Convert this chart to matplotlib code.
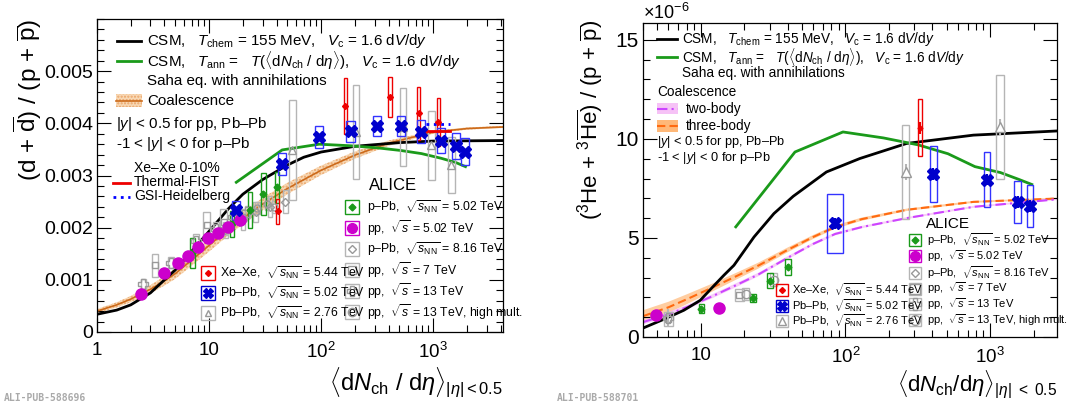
import numpy as np
import matplotlib
matplotlib.use('Agg')
import matplotlib.pyplot as plt
from matplotlib.patches import Rectangle
from matplotlib.lines import Line2D
from matplotlib.ticker import FixedLocator, FixedFormatter, MultipleLocator, FuncFormatter, LogLocator, NullFormatter

plt.rcParams['font.family'] = ['Liberation Sans', 'DejaVu Sans']
plt.rcParams['mathtext.fontset'] = 'custom'
plt.rcParams['mathtext.rm'] = 'Liberation Sans'
plt.rcParams['mathtext.it'] = 'Liberation Sans:italic'
plt.rcParams['mathtext.bf'] = 'Liberation Sans:bold'

# ---------------- left panel: (d + dbar)/(p + pbar), units of 1e-3
csm_x_L = [1, 1.5, 2, 3, 4, 5, 7, 10, 15, 20, 30, 50, 70, 100, 200, 500, 1000, 4200]
csm_y_L = [0.34, 0.42, 0.52, 0.75, 1.0, 1.19, 1.55, 1.93, 2.37, 2.64, 2.92, 3.2, 3.35, 3.45, 3.56, 3.63, 3.66, 3.67]
ann_x_L = [17.5, 44.9, 96.3, 183, 318, 512, 786, 1180, 1587, 1942]
ann_y_L = [2.87, 3.49, 3.6, 3.57, 3.53, 3.48, 3.42, 3.33, 3.25, 3.17]
coal_x_L = [1, 1.5, 2, 3, 4, 5, 7, 10, 15, 20, 30, 50, 100, 200, 400, 1000, 2000, 4200]
coal_y_L = [0.40, 0.52, 0.63, 0.82, 0.98, 1.12, 1.38, 1.66, 1.98, 2.18, 2.45, 2.75, 3.1, 3.39, 3.62, 3.83, 3.9, 3.93]
coal_e_L = [0.04, 0.05, 0.06, 0.08, 0.09, 0.1, 0.11, 0.12, 0.12, 0.12, 0.12, 0.11, 0.09, 0.07, 0.05, 0.03, 0.02, 0.02]
fist_x = [870, 1400]
fist_y = [3.85, 3.85]
gsi_x = [870, 1400]
gsi_y = [3.99, 3.99]

ppb5_x_L = [7.1, 16.1, 23.2, 30.5, 40.6]
ppb5_y_L = [1.51, 2.07, 2.34, 2.64, 2.77]
ppb5_s_L = [0.29, 0.25, 0.35, 0.40, 0.29]
pp5_x_L = [2.45, 3.96, 5.32, 6.45, 7.93, 9.87, 12.1, 14.9, 18.9]
pp5_y_L = [0.73, 1.14, 1.32, 1.46, 1.62, 1.80, 1.90, 2.02, 2.15]
pbpb5_x_L = [17.5, 44.9, 96.3, 183, 318, 512, 786, 1180, 1587, 1942]
pbpb5_y_L = [2.33, 3.22, 3.73, 3.85, 3.95, 3.95, 3.84, 3.67, 3.57, 3.46]
pbpb5_s_L = [0.18, 0.21, 0.21, 0.2, 0.2, 0.2, 0.22, 0.24, 0.25, 0.25]
xexe_x_L = [41, 164, 413, 740, 1115]
xexe_y_L = [2.31, 4.33, 4.51, 4.19, 4.02]
xexe_s_L = [0.24, 0.53, 0.38, 0.5, 0.46]
pbpb276_x_L = [55.5, 205, 537, 966, 1447]
pbpb276_y_L = [3.49, 3.84, 3.93, 3.58, 3.2]
pbpb276_s_L = [0.96, 0.9, 0.75, 0.66, 0.54]
pp7_x_L = [3.3, 9.5, 13.5]
pp7_y_L = [1.28, 2.05, 2.1]
pp7_s_L = [0.22, 0.25, 0.25]
pp13_x_L = [2.6, 4.6, 7.6, 11.5, 16.5, 22]
pp13_y_L = [0.92, 1.33, 1.75, 1.98, 2.2, 2.3]
pp13_s_L = [0.1, 0.1, 0.12, 0.12, 0.12, 0.12]
hm_x_L = [27, 33, 38]
hm_y_L = [2.38, 2.45, 2.4]
hm_s_L = [0.12, 0.12, 0.12]
ppb8_x_L = [14, 20, 26, 35, 48]
ppb8_y_L = [1.95, 2.15, 2.3, 2.4, 2.5]
ppb8_s_L = [0.15, 0.2, 0.2, 0.2, 0.22]

# ---------------- right panel: (3He + 3Hebar)/(p + pbar), units of 1e-6
csm_x_R = [4, 5.72, 7.66, 9.94, 12.0, 14.5, 17.0, 23.4, 32.1, 43.6, 74, 126, 265, 767, 2900]
csm_y_R = [0.45, 0.93, 1.35, 1.85, 2.49, 3.12, 3.62, 5.05, 6.23, 7.1, 8.33, 9.01, 9.77, 10.19, 10.4]
ann_x_R = [17.5, 44.9, 96.3, 183, 318, 512, 786, 1180, 1587, 1942]
ann_y_R = [5.56, 9.34, 10.35, 10.05, 9.7, 9.25, 8.6, 8.3, 7.95, 7.7]
coal_x_R = [4, 6, 8, 12, 18, 25, 40, 60, 85, 130, 265, 767, 2900]
three_y_R = [1.05, 1.5, 1.9, 2.49, 3.1, 3.6, 4.4, 5.05, 5.55, 5.95, 6.42, 6.82, 6.99]
three_e_R = [0.3, 0.28, 0.25, 0.2, 0.17, 0.15, 0.12, 0.1, 0.09, 0.08, 0.06, 0.05, 0.04]
two_y_R = [0.75, 1.15, 1.5, 2.05, 2.65, 3.15, 4.0, 4.7, 5.2, 5.55, 6.0, 6.57, 6.95]
two_e_R = [0.12, 0.12, 0.11, 0.1, 0.1, 0.09, 0.08, 0.07, 0.07, 0.06, 0.05, 0.05, 0.04]

ppb5_x_R = [10.1, 23, 30.2, 40.2]
ppb5_y_R = [1.43, 1.95, 2.85, 3.54]
ppb5_s_R = [0.22, 0.2, 0.37, 0.4]
pp5_x_R = [4.9, 13.5]
pp5_y_R = [1.1, 1.45]
pbpb5_x_R = [84.5, 406, 955, 1548, 1893]
pbpb5_y_R = [5.73, 8.22, 7.95, 6.82, 6.62]
pbpb5_s_R = [1.49, 1.4, 1.4, 1.05, 1.05]
xexe_x_R = [328]
xexe_y_R = [10.57]
xexe_s_R = [1.42]
pbpb276_x_R = [261, 1172]
pbpb276_y_R = [8.33, 10.6]
pbpb276_s_R = [2.38, 2.61]
pp7_x_R = [6.0, 18.5]
pp7_y_R = [0.93, 2.1]
pp13_x_R = [6.0]
pp13_y_R = [0.95]
hm_x_R = [20.5, 32]
hm_y_R = [2.15, 2.9]

# ---------------- colours
GREEN = '#1a9a1a'
MAG = '#cc00cc'
BLUE = '#0000cc'
RED = '#ee0000'
GRAY = '#999999'
GBOX = '#b5b5b5'

W, H = 1078, 407
fig = plt.figure(figsize=(W / 100, H / 100), dpi=100)


def fx(x):
    return x / W


def fy(y):
    return 1 - y / H


def boxes(ax, xs, ys, hs, dex, color, lw=1.0):
    if np.isscalar(dex):
        dex = [dex] * len(xs)
    for x, y, h, d in zip(xs, ys, hs, dex):
        x0, x1 = x * 10 ** (-d), x * 10 ** d
        ax.add_patch(Rectangle((x0, y - h), x1 - x0, 2 * h, fill=False, ec=color, lw=lw, zorder=3))


def style(ax, ysize):
    ax.tick_params(which='both', direction='in', top=True, right=True, width=0.8)
    ax.tick_params(which='major', length=10)
    ax.tick_params(which='minor', length=5)
    ax.tick_params(axis='x', pad=7, labelsize=13.5)
    ax.tick_params(axis='y', pad=3, labelsize=ysize)
    for s in ax.spines.values():
        s.set_linewidth(0.9)


def leg_entry(px, py, size, ec, marker, mfc, mec, ms, label, tx, fs):
    fig.add_artist(Rectangle((fx(px - size / 2), fy(py + size / 2)), size / W, size / H,
                             transform=fig.transFigure, fill=False, ec=ec, lw=1))
    fig.add_artist(Line2D([fx(px)], [fy(py)], transform=fig.transFigure, marker=marker,
                          mfc=mfc, mec=mec, ms=ms, ls='none', mew=1))
    fig.text(fx(tx), fy(py), label, fontsize=fs, va='center', ha='left')


def leg_line(x0, x1, py, **kw):
    fig.add_artist(Line2D([fx(x0), fx(x1)], [fy(py), fy(py)], transform=fig.transFigure, **kw))


# =============== left panel
axL = fig.add_axes([fx(97), fy(332), (503 - 97) / W, (332 - 19) / H])
axL.set_xscale('log')
axL.set_xlim(1, 4200)
axL.set_ylim(0, 6.0)

axL.fill_between(coal_x_L, np.array(coal_y_L) - coal_e_L, np.array(coal_y_L) + coal_e_L,
                 facecolor='#f8d8b4', edgecolor='#eaa468', hatch='.....', lw=0, zorder=1)
axL.plot(coal_x_L, coal_y_L, color='#cc6a1a', lw=1.2, zorder=2)
axL.plot(csm_x_L, csm_y_L, color='black', lw=2, zorder=2)
axL.plot(ann_x_L, ann_y_L, color=GREEN, lw=2, zorder=2)
axL.plot(fist_x, fist_y, color=RED, lw=2, zorder=5)
axL.plot(gsi_x, gsi_y, color='#0000ff', lw=2, ls=':', zorder=5)

boxes(axL, pbpb276_x_L, pbpb276_y_L, pbpb276_s_L, 0.03, GBOX)
boxes(axL, ppb8_x_L, ppb8_y_L, ppb8_s_L, 0.02, GBOX)
boxes(axL, pp7_x_L, pp7_y_L, pp7_s_L, 0.03, GBOX)
boxes(axL, pp13_x_L, pp13_y_L, pp13_s_L, 0.025, GBOX)
boxes(axL, hm_x_L, hm_y_L, hm_s_L, 0.02, GBOX)
axL.plot(pbpb276_x_L, pbpb276_y_L, ls='none', marker='^', mfc='none', mec=GRAY, ms=6, zorder=4)
axL.plot(ppb8_x_L, ppb8_y_L, ls='none', marker='D', mfc='none', mec=GRAY, ms=4, zorder=4)
axL.plot(pp7_x_L, pp7_y_L, ls='none', marker='s', mfc='none', mec=GRAY, ms=5, zorder=4)
axL.plot(pp13_x_L, pp13_y_L, ls='none', marker='P', mfc='none', mec=GRAY, ms=7, zorder=4)
axL.plot(hm_x_L, hm_y_L, ls='none', marker='o', mfc='none', mec=GRAY, ms=5, zorder=4)

boxes(axL, ppb5_x_L, ppb5_y_L, ppb5_s_L, 0.02, GREEN)
axL.errorbar(ppb5_x_L, ppb5_y_L, yerr=0.06, fmt='D', color=GREEN, ms=3.5, elinewidth=1.2, capsize=0, zorder=6)
axL.errorbar(pp5_x_L, pp5_y_L, yerr=0.06, fmt='o', color=MAG, ms=8, elinewidth=1.2, capsize=0, zorder=6)
boxes(axL, xexe_x_L, xexe_y_L, xexe_s_L, 0.015, RED)
axL.errorbar(xexe_x_L, xexe_y_L, yerr=0.05, fmt='D', color=RED, ms=3, elinewidth=1, capsize=0, zorder=6)
boxes(axL, pbpb5_x_L, pbpb5_y_L, pbpb5_s_L, 0.036, '#3333ff')
axL.errorbar(pbpb5_x_L, pbpb5_y_L, yerr=0.03, fmt='X', color=BLUE, ms=9, elinewidth=1, capsize=0, zorder=7)

style(axL, 14)
axL.xaxis.set_major_locator(FixedLocator([1, 10, 100, 1000]))
axL.xaxis.set_major_formatter(FixedFormatter(['1', '10', '$10^{2}$', '$10^{3}$']))
axL.xaxis.set_minor_locator(LogLocator(base=10, subs=np.arange(2, 10), numticks=20))
axL.xaxis.set_minor_formatter(NullFormatter())
axL.yaxis.set_major_locator(FixedLocator([0, 1, 2, 3, 4, 5]))
axL.yaxis.set_major_formatter(FuncFormatter(lambda v, _: '0' if v == 0 else '%.3f' % (v / 1000)))
axL.yaxis.set_minor_locator(MultipleLocator(0.2))

fig.text(fx(28), fy(19), r'(d + $\overline{\rm d}$) / (p + $\overline{\rm p}$)', rotation=90,
         ha='center', va='top', fontsize=17.5)
fig.text(fx(503), fy(383), r'$\langle{\rm d}N_{\rm ch}\ /\ {\rm d}\eta\rangle_{|\eta|<0.5}$',
         ha='right', va='center', fontsize=17)
fig.text(fx(4), fy(398), 'ALI-PUB-588696', fontsize=7, color='#aaaaaa', family='DejaVu Sans Mono',
         weight='bold', va='center')

# left legend
fsL = 10.9
leg_line(117, 141, 41, color='black', lw=2)
fig.text(fx(147), fy(41), r'CSM,   $T_{\rm chem}$ = 155 MeV,   $V_{\rm c}$ = 1.6 d$V$/d$y$', fontsize=fsL, va='center')
leg_line(117, 141, 61, color=GREEN, lw=2)
fig.text(fx(147), fy(61), r'CSM,   $T_{\rm ann}$ =   $T(\langle{\rm d}N_{\rm ch}\ /\ {\rm d}\eta\rangle)$,   $V_{\rm c}$ = 1.6 d$V$/d$y$',
         fontsize=fsL, va='center')
fig.text(fx(147), fy(81), 'Saha eq. with annihilations', fontsize=fsL, va='center')
fig.add_artist(Rectangle((fx(116), fy(107)), 26 / W, 13 / H, transform=fig.transFigure,
                         facecolor='#f8d8b4', edgecolor='#eaa468', hatch='.....', lw=0))
leg_line(116, 142, 100.5, color='#cc6a1a', lw=1.2)
fig.text(fx(147), fy(101), 'Coalescence', fontsize=fsL, va='center')
fig.text(fx(116), fy(124), r'|$y$| < 0.5 for pp, Pb–Pb', fontsize=fsL, va='center')
fig.text(fx(116), fy(144), r'-1 < |$y$| < 0 for p–Pb', fontsize=fsL, va='center')
fig.text(fx(134), fy(168), 'Xe–Xe 0-10%', fontsize=10, va='center')
leg_line(113, 130, 183, color=RED, lw=2)
fig.text(fx(134), fy(182), 'Thermal-FIST', fontsize=10, va='center')
leg_line(113, 130, 197, color='#0000ff', lw=2, ls=':')
fig.text(fx(134), fy(196), 'GSI-Heidelberg', fontsize=10, va='center')

fig.text(fx(369), fy(185), 'ALICE', fontsize=12, va='center')
fsA = 8.8
sq = 14
leg_entry(352, 207, sq, GREEN, 'D', GREEN, GREEN, 3.5, r'p–Pb,  $\sqrt{s_{\rm NN}}$ = 5.02 TeV', 367, fsA)
leg_entry(352, 228, sq, MAG, 'o', MAG, MAG, 7, r'pp,  $\sqrt{s}$ = 5.02 TeV', 367, fsA)
leg_entry(352, 249, sq, GBOX, 'D', 'none', GRAY, 4, r'p–Pb,  $\sqrt{s_{\rm NN}}$ = 8.16 TeV', 367, fsA)
leg_entry(352, 270, sq, GBOX, 's', 'none', GRAY, 6, r'pp,  $\sqrt{s}$ = 7 TeV', 367, fsA)
leg_entry(352, 291, sq, GBOX, 'P', 'none', GRAY, 7, r'pp,  $\sqrt{s}$ = 13 TeV', 367, fsA)
leg_entry(352, 312, sq, GBOX, 'o', 'none', GRAY, 6, r'pp,  $\sqrt{s}$ = 13 TeV, high mult.', 367, fsA)
leg_entry(208, 273, sq, RED, 'D', RED, RED, 3, r'Xe–Xe,  $\sqrt{s_{\rm NN}}$ = 5.44 TeV', 220, fsA)
leg_entry(208, 293, sq, BLUE, 'X', BLUE, BLUE, 7, r'Pb–Pb,  $\sqrt{s_{\rm NN}}$ = 5.02 TeV', 220, fsA)
leg_entry(208, 313, sq, GBOX, '^', 'none', GRAY, 5, r'Pb–Pb,  $\sqrt{s_{\rm NN}}$ = 2.76 TeV', 220, fsA)

# =============== right panel
axR = fig.add_axes([fx(643), fy(337), (1057 - 643) / W, (337 - 23) / H])
axR.set_xscale('log')
axR.set_xlim(4, 2900)
axR.set_ylim(0, 15.85)

axR.fill_between(coal_x_R, np.array(three_y_R) - three_e_R, np.array(three_y_R) + three_e_R,
                 facecolor='#ffb878', alpha=0.7, lw=0, zorder=1)
axR.fill_between(coal_x_R, np.array(two_y_R) - two_e_R, np.array(two_y_R) + two_e_R,
                 facecolor='#f6c2f6', alpha=0.8, lw=0, zorder=1)
axR.plot(coal_x_R, three_y_R, color='#ff6a10', lw=1.5, ls=(0, (4, 2)), zorder=2)
axR.plot(coal_x_R, two_y_R, color='#cc44ff', lw=1.5, ls=(0, (5, 2, 1, 2)), zorder=2)
axR.plot(csm_x_R, csm_y_R, color='black', lw=2, zorder=2)
axR.plot(ann_x_R, ann_y_R, color=GREEN, lw=2, zorder=2)

boxes(axR, pbpb276_x_R, pbpb276_y_R, pbpb276_s_R, 0.025, GBOX)
axR.errorbar(pbpb276_x_R, pbpb276_y_R, yerr=0.4, fmt='^', mfc='white', mec=GRAY, ecolor=GBOX, ms=7,
             capsize=0, zorder=4)
boxes(axR, pp7_x_R, pp7_y_R, [0.35, 0.3], 0.03, GBOX)
axR.plot(pp7_x_R, pp7_y_R, ls='none', marker='s', mfc='none', mec=GRAY, ms=5, zorder=4)
axR.errorbar(pp13_x_R, pp13_y_R, yerr=0.45, fmt='P', mfc='none', mec=GRAY, ecolor=GBOX, ms=7, capsize=0,
             zorder=4)
boxes(axR, hm_x_R, hm_y_R, [0.3, 0.35], 0.025, GBOX)
axR.plot(hm_x_R, hm_y_R, ls='none', marker='o', mfc='none', mec=GRAY, ms=6, zorder=4)

boxes(axR, ppb5_x_R, ppb5_y_R, ppb5_s_R, 0.018, GREEN)
axR.errorbar(ppb5_x_R, ppb5_y_R, yerr=0.15, fmt='D', color=GREEN, ms=3.5, capsize=0, zorder=6)
axR.errorbar(pp5_x_R, pp5_y_R, yerr=0.08, fmt='o', color=MAG, ms=8, capsize=0, zorder=6)
boxes(axR, xexe_x_R, xexe_y_R, xexe_s_R, 0.015, RED)
axR.errorbar(xexe_x_R, xexe_y_R, yerr=0.3, fmt='D', color=RED, ms=2.5, capsize=0, zorder=6)
boxes(axR, pbpb5_x_R, pbpb5_y_R, pbpb5_s_R, [0.055, 0.022, 0.022, 0.022, 0.022], '#3333ff')
axR.errorbar(pbpb5_x_R, pbpb5_y_R, yerr=0.3, fmt='X', color=BLUE, ms=9, capsize=0, zorder=7)

style(axR, 15)
axR.xaxis.set_major_locator(FixedLocator([10, 100, 1000]))
axR.xaxis.set_major_formatter(FixedFormatter(['10', '$10^{2}$', '$10^{3}$']))
axR.xaxis.set_minor_locator(LogLocator(base=10, subs=np.arange(2, 10), numticks=20))
axR.xaxis.set_minor_formatter(NullFormatter())
axR.yaxis.set_major_locator(FixedLocator([0, 5, 10, 15]))
axR.yaxis.set_major_formatter(FixedFormatter(['0', '5', '10', '15']))
axR.yaxis.set_minor_locator(MultipleLocator(1))

fig.text(fx(643), fy(13), r'$\times$10$^{-6}$', fontsize=13, va='center', ha='left')
fig.text(fx(590), fy(20), r'($^{3}$He + $^{3}\overline{\rm He}$) / (p + $\overline{\rm p}$)', rotation=90,
         ha='center', va='top', fontsize=16)
fig.text(fx(1057), fy(385), r'$\langle{\rm d}N_{\rm ch}/{\rm d}\eta\rangle_{|\eta|\ <\ 0.5}$',
         ha='right', va='center', fontsize=16)
fig.text(fx(557), fy(398), 'ALI-PUB-588701', fontsize=7, color='#aaaaaa', family='DejaVu Sans Mono',
         weight='bold', va='center')

# right legend
fsR = 9.8
leg_line(657, 677, 39, color='black', lw=2)
fig.text(fx(682), fy(39), r'CSM,   $T_{\rm chem}$ = 155 MeV,   $V_{\rm c}$ = 1.6 d$V$/d$y$', fontsize=fsR, va='center')
leg_line(657, 677, 57, color=GREEN, lw=2)
fig.text(fx(682), fy(57), r'CSM,   $T_{\rm ann}$ =   $T(\langle{\rm d}N_{\rm ch}\ /\ {\rm d}\eta\rangle)$,   $V_{\rm c}$ = 1.6 d$V$/d$y$',
         fontsize=fsR, va='center')
fig.text(fx(682), fy(73), 'Saha eq. with annihilations', fontsize=fsR, va='center')
fig.text(fx(657), fy(92), 'Coalescence', fontsize=fsR, va='center')
fig.add_artist(Rectangle((fx(657), fy(114)), 21 / W, 11 / H, transform=fig.transFigure,
                         facecolor='#f6c2f6', lw=0))
leg_line(657, 678, 108.5, color='#cc44ff', lw=1.5, ls=(0, (5, 2, 1, 2)))
fig.text(fx(686), fy(109), 'two-body', fontsize=fsR, va='center')
fig.add_artist(Rectangle((fx(657), fy(132)), 21 / W, 12 / H, transform=fig.transFigure,
                         facecolor='#ffb878', lw=0))
leg_line(657, 678, 126, color='#ff6a10', lw=1.5, ls=(0, (4, 2)))
fig.text(fx(686), fy(126), 'three-body', fontsize=fsR, va='center')
fig.text(fx(657), fy(142), r'|$y$| < 0.5 for pp, Pb–Pb', fontsize=9.2, va='center')
fig.text(fx(657), fy(158.5), r'-1 < |$y$| < 0 for p–Pb', fontsize=9.2, va='center')

fig.text(fx(926), fy(224), 'ALICE', fontsize=11, va='center')
fsB = 8.0
sq = 12
leg_entry(915, 240, sq, GREEN, 'D', GREEN, GREEN, 3.5, r'p–Pb,  $\sqrt{s_{\rm NN}}$ = 5.02 TeV', 927, fsB)
leg_entry(915, 256, sq, MAG, 'o', MAG, MAG, 7, r'pp,  $\sqrt{s}$ = 5.02 TeV', 927, fsB)
leg_entry(915, 272.5, sq, GBOX, 'D', 'none', GRAY, 4, r'p–Pb,  $\sqrt{s_{\rm NN}}$ = 8.16 TeV', 927, fsB)
leg_entry(915, 288.5, sq, GBOX, 's', 'none', GRAY, 7, r'pp,  $\sqrt{s}$ = 7 TeV', 927, fsB)
leg_entry(915, 304, sq, GBOX, 'P', 'none', GRAY, 8, r'pp,  $\sqrt{s}$ = 13 TeV', 927, fsB)
leg_entry(915, 320, sq, GBOX, 'o', 'none', GRAY, 7, r'pp,  $\sqrt{s}$ = 13 TeV, high mult.', 927, fsB)
leg_entry(782, 290, sq, RED, 'D', RED, RED, 3, r'Xe–Xe,  $\sqrt{s_{\rm NN}}$ = 5.44 TeV', 792, fsB)
leg_entry(782, 305.5, sq, BLUE, 'X', BLUE, BLUE, 7, r'Pb–Pb,  $\sqrt{s_{\rm NN}}$ = 5.02 TeV', 792, fsB)
leg_entry(782, 321, sq, GBOX, '^', 'none', GRAY, 6, r'Pb–Pb,  $\sqrt{s_{\rm NN}}$ = 2.76 TeV', 792, fsB)

fig.savefig('out.png', dpi=100)
